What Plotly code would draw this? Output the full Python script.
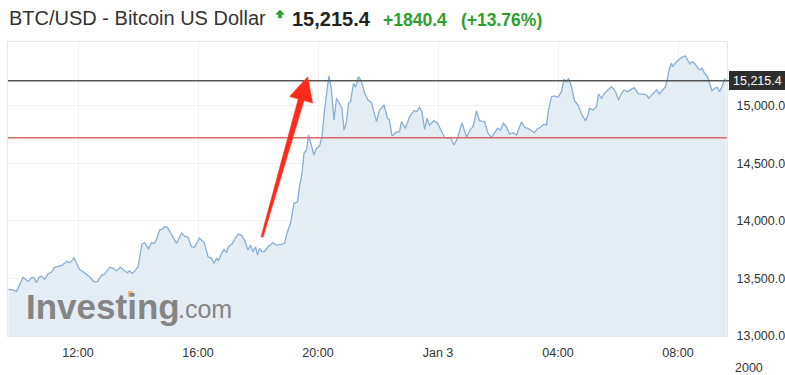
import plotly.graph_objects as go
import pandas as pd

# ---------------- data ----------------
start_time = "2018-01-02 09:40"
minutes_from_start = [
    1, 8, 17, 25, 30, 37, 41, 47, 52, 57,
    62, 67, 73, 80, 87, 93, 100, 108, 113, 117,
    121, 127, 132, 137, 143, 153, 163, 172, 179, 187,
    193, 203, 210, 217, 225, 233, 239, 243, 248, 253,
    260, 263, 268, 273, 281, 287, 293, 297, 303, 308,
    313, 319, 327, 337, 347, 353, 360, 367, 373, 383,
    393, 400, 407, 412, 417, 421, 427, 432, 437, 441,
    448, 453, 461, 467, 473, 480, 485, 490, 495, 499,
    503, 508, 513, 520, 530, 537, 547, 553, 559, 565,
    572, 579, 583, 588, 592, 597, 601, 607, 612, 617,
    623, 628, 633, 639, 642, 647, 652, 657, 663, 668,
    672, 677, 681, 685, 691, 695, 701, 707, 713, 720,
    727, 732, 737, 743, 752, 759, 763, 768, 777, 783,
    787, 795, 803, 812, 818, 823, 828, 833, 838, 843,
    852, 859, 865, 873, 879, 885, 892, 899, 908, 917,
    925, 930, 937, 943, 953, 960, 967, 972, 979, 985,
    991, 997, 1003, 1010, 1017, 1027, 1033, 1040, 1047, 1053,
    1059, 1065, 1072, 1077, 1081, 1087, 1093, 1100, 1107, 1112,
    1117, 1121, 1127, 1133, 1140, 1148, 1155, 1160, 1163, 1170,
    1177, 1181, 1187, 1193, 1200, 1207, 1212, 1217, 1221, 1227,
    1232, 1239, 1245, 1252, 1257, 1261, 1270, 1277, 1281, 1288,
    1293, 1297, 1303, 1310, 1315, 1319, 1322, 1327, 1330, 1335,
    1340, 1345, 1350, 1355, 1360, 1364, 1368, 1373, 1379, 1383,
    1388, 1393, 1399, 1403, 1408, 1413, 1419, 1423, 1428, 1433,
    1437,
]
prices = [
    13404.8, 13401.2, 13387.4, 13462.1, 13508.9, 13485.5, 13474.2, 13508.9, 13505.0, 13462.1,
    13508.9, 13520.2, 13491.6, 13537.6, 13554.9, 13595.7, 13607.0, 13613.1, 13630.5, 13650.4,
    13635.7, 13647.8, 13679.1, 13630.5, 13578.4, 13548.9, 13514.1, 13470.7, 13474.2, 13526.3,
    13537.6, 13595.7, 13589.7, 13566.2, 13595.7, 13566.2, 13548.9, 13566.2, 13543.7, 13561.0,
    13600.9, 13673.9, 13798.0, 13809.3, 13757.2, 13809.3, 13804.1, 13838.8, 13919.5, 13925.6,
    13948.1, 13942.9, 13884.8, 13804.1, 13890.9, 13867.4, 13856.1, 13774.5, 13770.0, 13850.1,
    13804.1, 13687.7, 13673.9, 13630.5, 13673.9, 13653.0, 13717.3, 13752.0, 13722.5, 13774.5,
    13798.0, 13838.8, 13884.8, 13873.5, 13832.7, 13745.9, 13789.3, 13731.1, 13774.5, 13702.5,
    13760.7, 13731.1, 13735.0, 13774.5, 13809.3, 13789.3, 13795.4, 13804.1, 13904.7, 13977.7,
    14151.3, 14165.1, 14295.3, 14411.7, 14585.3, 14613.9, 14744.1, 14642.5, 14570.5, 14628.7,
    14645.0, 14729.3, 14961.1, 15163.3, 15256.2, 15134.7, 14874.3, 15062.7, 15019.3, 14975.9,
    14787.5, 14859.5, 15020.0, 15033.1, 15192.9, 15158.1, 15250.1, 15206.7, 15111.3, 15047.9,
    15024.5, 14946.3, 14859.5, 14961.1, 15004.5, 14889.1, 14874.3, 14735.4, 14770.1, 14772.7,
    14859.5, 14802.3, 14902.9, 14955.0, 14950.0, 14984.5, 14946.3, 14793.6, 14889.1, 14830.9,
    14868.2, 14845.7, 14787.5, 14724.1, 14715.5, 14724.1, 14657.3, 14715.5, 14850.9, 14724.1,
    14793.6, 14816.1, 14952.4, 14868.2, 14859.5, 14758.9, 14724.1, 14758.9, 14802.3, 14787.5,
    14845.7, 14816.1, 14752.8, 14764.1, 14744.1, 14859.5, 14810.9, 14802.3, 14781.4, 14764.1,
    14798.8, 14810.9, 14839.6, 14830.9, 14961.1, 15076.5, 15082.6, 15071.3, 15119.9, 15227.6,
    15206.7, 15236.3, 15163.3, 15041.8, 15004.5, 14917.7, 14868.2, 14917.7, 14975.9, 14961.1,
    14989.7, 15100.0, 15062.7, 15106.1, 15134.7, 15163.3, 15140.8, 15100.0, 15047.9, 15106.1,
    15134.7, 15119.9, 15136.0, 15154.7, 15128.6, 15100.0, 15098.0, 15091.3, 15062.7, 15091.3,
    15111.3, 15134.7, 15100.0, 15134.7, 15163.3, 15236.3, 15308.3, 15366.5, 15336.9, 15371.7,
    15395.1, 15409.9, 15423.7, 15429.8, 15389.0, 15360.4, 15380.3, 15366.5, 15331.7, 15308.3,
    15323.1, 15279.7, 15250.1, 15192.9, 15128.6, 15149.5, 15158.1, 15119.9, 15163.3, 15227.6,
    15215.4,
]
last_price = 15215.4
change = "+1840.4"
change_pct = "(+13.76%)"
ref_level = 14720.0
y_tick_values = [13000, 13500, 14000, 14500, 15000]
x_tick_values = ["2018-01-02 12:00", "2018-01-02 16:00", "2018-01-02 20:00",
                 "2018-01-03 00:00", "2018-01-03 04:00", "2018-01-03 08:00"]
x_tick_labels = ["12:00", "16:00", "20:00", "Jan 3", "04:00", "08:00"]

t0 = pd.Timestamp(start_time)
times = [t0 + pd.Timedelta(minutes=m) for m in minutes_from_start]

# ---------------- layout geometry (pixels) ----------------
W, H = 785, 375
L, R, T, B = 8, 727, 42, 336
PW, PH = R - L, B - T


def px(xp):
    return (xp - L) / PW


def py(yp):
    return (B - yp) / PH


def poly(points):
    return "M " + " L ".join(f"{px(a):.5f},{py(b):.5f}" for a, b in points) + " Z"


FONT = "Liberation Sans, Arial, sans-serif"

fig = go.Figure()
fig.add_trace(go.Scatter(
    x=times, y=prices, mode="lines",
    line=dict(color="#89aed3", width=1.3),
    fill="tozeroy", fillcolor="#e5edf4",
    hoverinfo="skip", showlegend=False,
))

shapes = []
shapes.append(dict(type="line", xref="paper", yref="y", x0=0, x1=1,
                   y0=ref_level, y1=ref_level,
                   line=dict(color="#d9686a", width=1.5)))
shapes.append(dict(type="line", xref="paper", yref="y", x0=0, x1=px(730),
                   y0=last_price, y1=last_price,
                   line=dict(color="#555555", width=1.5)))
shapes.append(dict(type="rect", xref="paper", yref="paper",
                   x0=px(729), x1=px(785), y0=py(90), y1=py(71),
                   fillcolor="#2e2e2e", line=dict(width=0)))
# red annotation arrow
arrow_pts = [(261.0, 236.7), (298.2, 99.0), (289.6, 96.5), (307.7, 76.7),
             (312.6, 103.1), (304.0, 100.6), (263.0, 237.3)]
shapes.append(dict(type="path", xref="paper", yref="paper", path=poly(arrow_pts),
                   fillcolor="#ff2a1a", line=dict(color="#ff2a1a", width=0.5)))
# small green "up" marker next to the title
up_pts = [(280.0, 10.0), (284.3, 14.3), (281.6, 14.3), (281.6, 18.0),
          (278.4, 18.0), (278.4, 14.3), (275.7, 14.3)]
shapes.append(dict(type="path", xref="paper", yref="paper", path=poly(up_pts),
                   fillcolor="#2e9e2e", line=dict(color="#2e9e2e", width=0.5)))
# logo accent
shapes.append(dict(type="rect", xref="paper", yref="paper",
                   x0=px(128), x1=px(133), y0=py(297), y1=py(291),
                   fillcolor="#e8b060", line=dict(width=0), opacity=0.8))

ann = []
ann.append(dict(text="BTC/USD - Bitcoin US Dollar", x=px(7), y=py(18.5),
                xanchor="left", yanchor="middle",
                font=dict(size=20, color="#333333", family=FONT)))
ann.append(dict(text=f"<b>{last_price:,.1f}</b>", x=px(290), y=py(19),
                xanchor="left", yanchor="middle",
                font=dict(size=20, color="#222222", family=FONT)))
ann.append(dict(text=f"<b>{change}</b>", x=px(381), y=py(20),
                xanchor="left", yanchor="middle",
                font=dict(size=17.5, color="#2e9e2e", family=FONT)))
ann.append(dict(text=f"<b>{change_pct}</b>", x=px(459), y=py(20),
                xanchor="left", yanchor="middle",
                font=dict(size=17.5, color="#2e9e2e", family=FONT)))
ann.append(dict(text=f"{last_price:,.1f}", x=px(757), y=py(80.5),
                xanchor="center", yanchor="middle",
                font=dict(size=12.5, color="#ffffff", family=FONT)))
ann.append(dict(text="2000", x=px(733), y=py(368), xanchor="left", yanchor="middle",
                font=dict(size=12.5, color="#333333", family=FONT)))
ann.append(dict(text="<b>Investing</b>", x=px(24), y=py(306), xanchor="left",
                yanchor="middle",
                font=dict(size=35, color="#858585", family=FONT)))
ann.append(dict(text=".com", x=px(176), y=py(309), xanchor="left", yanchor="middle",
                font=dict(size=25, color="#858585", family=FONT)))
for a in ann:
    a.update(xref="paper", yref="paper", showarrow=False)

fig.update_layout(
    width=W, height=H, autosize=False,
    margin=dict(l=L, r=W - R, t=T, b=H - B, pad=0, autoexpand=False),
    paper_bgcolor="white", plot_bgcolor="white",
    font=dict(family=FONT, size=12.5, color="#333333"),
    shapes=shapes, annotations=ann,
    xaxis=dict(
        type="date", automargin=False,
        range=[t0, t0 + pd.Timedelta(minutes=1438)],
        tickvals=x_tick_values, ticktext=x_tick_labels,
        showgrid=True, gridcolor="#f0f0f0", gridwidth=1,
        showline=True, linecolor="#e6e6e6", mirror=True,
        zeroline=False, ticks="", ticklabelstandoff=5,
        tickfont=dict(size=12.5, color="#333333"),
    ),
    yaxis=dict(
        side="right", automargin=False, range=[13000, 15551],
        tickvals=y_tick_values, tickformat=",.1f",
        showgrid=True, gridcolor="#f0f0f0", gridwidth=1,
        showline=True, linecolor="#e6e6e6", mirror=True,
        zeroline=False, ticks="", ticklabelstandoff=6,
        tickfont=dict(size=12.5, color="#333333"),
    ),
)

fig.write_html("out.html")
